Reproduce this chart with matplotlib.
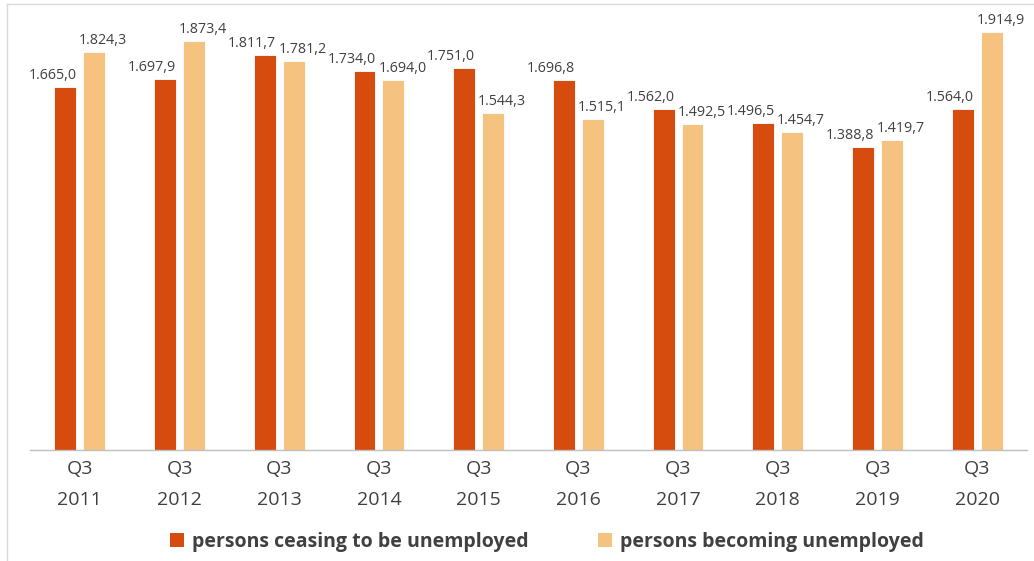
import matplotlib
matplotlib.use("Agg")
import matplotlib.pyplot as plt
import numpy as np
from matplotlib.patches import Patch
from matplotlib.lines import Line2D

categories = ["Q3\n2011", "Q3\n2012", "Q3\n2013", "Q3\n2014", "Q3\n2015",
              "Q3\n2016", "Q3\n2017", "Q3\n2018", "Q3\n2019", "Q3\n2020"]
ceasing = [1665.0, 1697.9, 1811.7, 1734.0, 1751.0, 1696.8, 1562.0, 1496.5, 1388.8, 1564.0]
becoming = [1824.3, 1873.4, 1781.2, 1694.0, 1544.3, 1515.1, 1492.5, 1454.7, 1419.7, 1914.9]
series_names = ["persons ceasing to be unemployed", "persons becoming unemployed"]

c_dark = "#D64B0E"
c_light = "#F5C27F"
txt = "#404040"
font = "Open Sans"

fig = plt.figure(figsize=(10.34, 5.61), dpi=100)
ax = fig.add_axes([30/1034, 111/561, 997/1034, 430/561])

x = np.arange(len(categories))
w = 0.22
off = 0.145
b1 = ax.bar(x - off, ceasing, w, color=c_dark, edgecolor="white", linewidth=0.6)
b2 = ax.bar(x + off, becoming, w, color=c_light, edgecolor="white", linewidth=0.6)

def fmt(v):
    s = f"{v:,.1f}"
    return s.replace(",", "X").replace(".", ",").replace("X", ".")

for rect, v in zip(b1, ceasing):
    ax.annotate(fmt(v), (rect.get_x() + rect.get_width()/2, v), xytext=(-13, 4),
                textcoords="offset pixels", ha="center", va="bottom",
                fontsize=10.3, color=txt, family=font)
for rect, v in zip(b2, becoming):
    ax.annotate(fmt(v), (rect.get_x() + rect.get_width()/2, v), xytext=(9, 4),
                textcoords="offset pixels", ha="center", va="bottom",
                fontsize=10.3, color=txt, family=font)

ax.set_xlim(-0.5, len(categories) - 0.5)
ax.set_ylim(0, 1914.9 * 430 / 418)
ax.set_xticks(x)
ax.set_xticklabels(categories, fontsize=14, color=txt, family=font, linespacing=1.95)
ax.tick_params(axis="x", length=0, pad=7)
ax.set_yticks([])
for s in ["top", "right", "left"]:
    ax.spines[s].set_visible(False)
ax.spines["bottom"].set_color("#BFBFBF")
ax.spines["bottom"].set_linewidth(1.0)

handles = [Patch(facecolor=c_dark, edgecolor="none"), Patch(facecolor=c_light, edgecolor="none")]
leg = fig.legend(handles, series_names, loc="center", bbox_to_anchor=(547/1034, 1 - 542/561),
                 ncol=2, frameon=False, handlelength=0.7, handleheight=0.7,
                 handletextpad=0.4, columnspacing=3.6,
                 prop={"family": font, "weight": "bold", "size": 14})
for t in leg.get_texts():
    t.set_color(txt)

# chart frame (top and left edges visible)
fig.add_artist(Line2D([7/1034, 7/1034], [0, 1 - 4/561], transform=fig.transFigure, color="#D9D9D9", lw=1))
fig.add_artist(Line2D([7/1034, 1], [1 - 4/561, 1 - 4/561], transform=fig.transFigure, color="#D9D9D9", lw=1))

fig.savefig("out.png", dpi=100)
